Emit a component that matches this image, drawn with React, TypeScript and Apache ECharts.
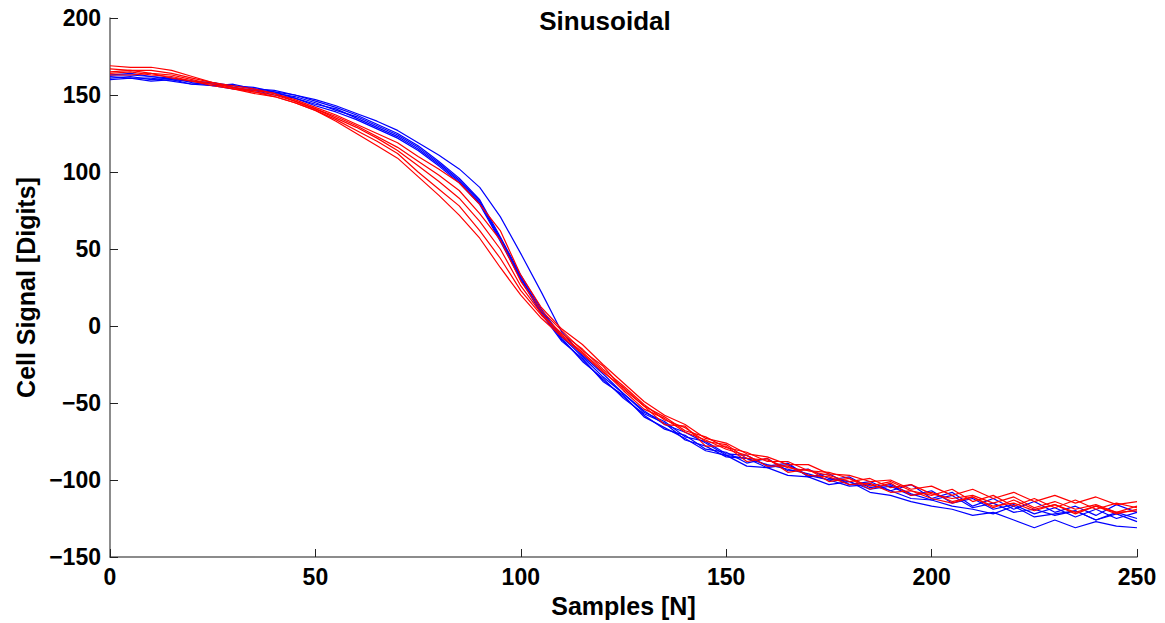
import React, { useEffect, useRef } from "react";
import * as echarts from "echarts";

const samples = [0, 5, 10, 15, 20, 25, 30, 35, 40, 45, 50, 55, 60, 65, 70, 75, 80, 85, 90, 95, 100, 105, 110, 115, 120, 125, 130, 135, 140, 145, 150, 155, 160, 165, 170, 175, 180, 185, 190, 195, 200, 205, 210, 215, 220, 225, 230, 235, 240, 245, 250];

const blue1 = [163, 163, 162, 160, 159, 157, 156, 155, 152, 150, 146, 142, 137, 131, 125, 117, 107, 96, 82, 58, 33, 11, -7, -20, -33, -44, -56, -62, -72, -75, -83, -84, -91, -89, -98, -96, -103, -101, -107, -103, -112, -108, -117, -112, -119, -114, -121, -117, -123, -116, -121];
const blue2 = [161, 162, 160, 161, 158, 156, 157, 154, 151, 149, 145, 140, 136, 130, 124, 116, 106, 95, 81, 57, 32, 9, -9, -22, -35, -46, -58, -67, -71, -80, -82, -89, -86, -94, -93, -99, -101, -106, -104, -110, -107, -115, -112, -119, -116, -122, -118, -124, -119, -125, -121];
const blue3 = [162, 161, 161, 159, 157, 158, 155, 153, 152, 148, 144, 141, 135, 129, 123, 115, 105, 94, 80, 56, 31, 10, -8, -23, -34, -47, -57, -63, -74, -78, -85, -86, -92, -90, -97, -100, -98, -105, -103, -109, -113, -110, -118, -115, -121, -119, -123, -120, -126, -122, -127];
const blue4 = [160, 161, 159, 160, 157, 156, 154, 153, 150, 148, 143, 139, 134, 128, 122, 114, 104, 93, 79, 55, 30, 8, -10, -21, -36, -45, -59, -66, -73, -81, -84, -91, -92, -97, -98, -103, -101, -108, -110, -114, -117, -119, -123, -121, -126, -131, -126, -131, -127, -130, -131];
const blue5 = [163, 164, 162, 161, 159, 158, 156, 154, 153, 150, 147, 143, 138, 133, 127, 119, 111, 102, 90, 71, 47, 22, -4, -19, -31, -44, -55, -64, -69, -76, -84, -86, -90, -93, -96, -100, -104, -103, -107, -112, -113, -117, -119, -122, -117, -124, -122, -120, -126, -121, -125];

const red1 = [169, 168, 168, 166, 162, 158, 156, 154, 151, 147, 142, 137, 131, 125, 119, 110, 102, 93, 79, 62, 33, 12, -2, -12, -25, -37, -49, -58, -64, -73, -76, -83, -85, -90, -90, -96, -97, -101, -100, -106, -104, -110, -106, -112, -108, -114, -110, -115, -111, -116, -114];
const red2 = [167, 166, 166, 164, 161, 158, 155, 153, 151, 146, 141, 136, 130, 123, 116, 107, 98, 88, 73, 56, 29, 10, -3, -16, -26, -41, -52, -59, -68, -72, -79, -82, -88, -88, -94, -95, -99, -104, -101, -107, -110, -106, -114, -110, -117, -112, -118, -113, -119, -115, -118];
const red3 = [165, 166, 164, 163, 160, 157, 155, 152, 150, 146, 141, 135, 129, 122, 114, 104, 94, 83, 68, 50, 26, 8, -5, -15, -28, -39, -51, -61, -66, -75, -77, -86, -87, -92, -94, -97, -101, -99, -105, -103, -109, -112, -110, -115, -111, -118, -114, -119, -116, -121, -117];
const red4 = [164, 165, 163, 162, 159, 157, 154, 152, 149, 145, 140, 134, 127, 120, 112, 100, 89, 78, 62, 44, 23, 7, -6, -17, -29, -42, -54, -60, -69, -74, -80, -84, -91, -91, -97, -98, -103, -102, -108, -107, -112, -115, -111, -117, -115, -120, -116, -122, -117, -121, -120];
const red5 = [163, 163, 164, 161, 159, 156, 154, 151, 149, 145, 140, 133, 125, 117, 109, 97, 85, 72, 57, 38, 20, 5, -7, -18, -30, -40, -52, -64, -65, -78, -78, -88, -86, -95, -93, -101, -99, -106, -102, -110, -108, -114, -111, -118, -113, -119, -116, -121, -117, -122, -119];

const blueSeries = [blue1, blue2, blue3, blue4, blue5];
const redSeries = [red1, red2, red3, red4, red5];

const xTicks = [0, 50, 100, 150, 200, 250];
const yTicks = [-150, -100, -50, 0, 50, 100, 150, 200];

const titleText = "Sinusoidal";
const xName = "Samples [N]";
const yName = "Cell Signal [Digits]";

const FONT = '"Liberation Sans", Helvetica, Arial, sans-serif';

export default function App() {
  const ref = useRef<HTMLDivElement>(null);
  useEffect(() => {
    if (!ref.current) return;
    const chart = echarts.init(ref.current, undefined, { renderer: "svg" });
    const mk = (arr: number[], color: string, i: number, prefix: string) => ({
      name: prefix + (i + 1),
      type: "line",
      data: arr.map((v, k) => [samples[k], v]),
      showSymbol: false,
      symbol: "none",
      silent: true,
      lineStyle: { color, width: 1.2 },
      itemStyle: { color },
      emphasis: { disabled: true },
    });
    const series = [
      ...blueSeries.map((a, i) => mk(a, "#0000ff", i, "blue")),
      ...redSeries.map((a, i) => mk(a, "#ff0000", i, "red")),
    ];
    const fmt = (v: number) => (v < 0 ? "\u2212" + Math.abs(v) : String(v));
    chart.setOption({
      animation: false,
      backgroundColor: "#ffffff",
      title: {
        text: titleText,
        left: 600,
        top: 3,
        textAlign: "center",
        textStyle: { fontFamily: FONT, fontWeight: "bold", fontSize: 26, color: "#000" },
      },
      grid: { left: 110, right: 28, top: 18, bottom: 66, containLabel: false },
      xAxis: {
        type: "value",
        min: xTicks[0],
        max: xTicks[xTicks.length - 1],
        interval: 50,
        name: xName,
        nameLocation: "middle",
        nameGap: 36,
        nameTextStyle: { fontFamily: FONT, fontWeight: "bold", fontSize: 25, color: "#000" },
        axisLine: { onZero: false, lineStyle: { color: "#666", width: 1.5 } },
        axisTick: { inside: true, length: 8, lineStyle: { color: "#222", width: 1 } },
        axisLabel: { formatter: fmt, fontFamily: FONT, fontWeight: "bold", fontSize: 23, color: "#000", margin: 8 },
        splitLine: { show: false },
      },
      yAxis: {
        type: "value",
        min: yTicks[0],
        max: yTicks[yTicks.length - 1],
        interval: 50,
        name: yName,
        nameLocation: "middle",
        nameRotate: 90,
        nameGap: 70,
        nameTextStyle: { fontFamily: FONT, fontWeight: "bold", fontSize: 25, color: "#000" },
        axisLine: { show: true, onZero: false, lineStyle: { color: "#666", width: 1.5 } },
        axisTick: { show: true, inside: true, length: 8, lineStyle: { color: "#222", width: 1 } },
        axisLabel: { formatter: fmt, fontFamily: FONT, fontWeight: "bold", fontSize: 23, color: "#000", margin: 9 },
        splitLine: { show: false },
      },
      series,
    });
    return () => chart.dispose();
  }, []);
  return (
    <div
      ref={ref}
      style={{ position: "absolute", left: 0, top: 0, width: 1165, height: 623, background: "#fff" }}
    />
  );
}
